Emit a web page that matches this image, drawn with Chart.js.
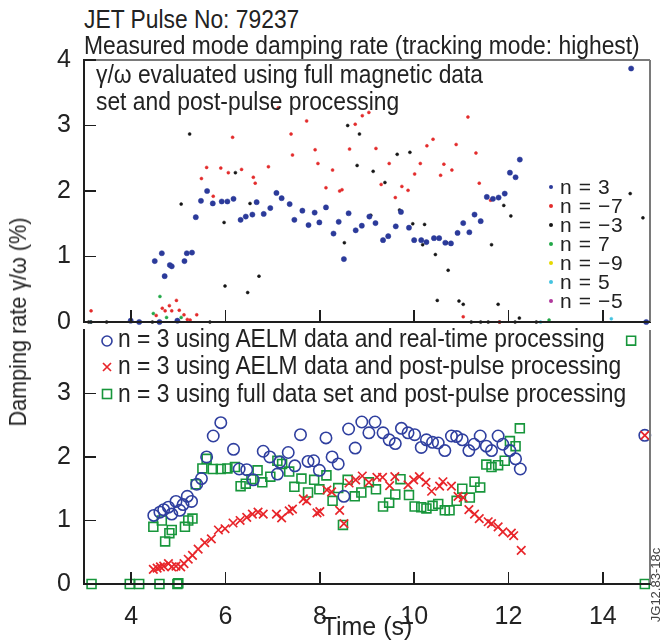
<!DOCTYPE html>
<html>
<head>
<meta charset="utf-8">
<script src="https://cdn.jsdelivr.net/npm/chart.js"></script>
<style>
  body { margin: 0; background: #fff; }
  #page { position: relative; width: 661px; height: 643px; overflow: hidden;
          font-family: "Liberation Sans", Arial, sans-serif; color: #222; }
  #page canvas { position: absolute; left: 0; }
  .txt { position: absolute; white-space: nowrap; font-size: 25px; line-height: 25px;
         transform-origin: 0 0; transform: scaleX(0.913); }
  .ytitle { position: absolute; left: 18px; top: 322px; white-space: nowrap; font-size: 24px;
            line-height: 24px; transform: translate(-50%, -50%) rotate(-90deg) scaleX(0.9); }
  .code { position: absolute; left: 655px; top: 585px; white-space: nowrap; font-size: 13px;
          color: #444; transform: translate(-50%, -50%) rotate(-90deg); }
  .leg-row { position: absolute; left: 560px; font-size: 21px; line-height: 19px;
             letter-spacing: 0.6px; white-space: nowrap; }
  .leg-dot { position: absolute; left: -11.5px; top: 7.5px; width: 4px; height: 4px; border-radius: 50%; }
  .mk { position: absolute; left: 100px; }
  .rule { position: absolute; }
</style>
</head>
<body>
<div id="page">
  <canvas id="top-chart" width="661" height="290" style="top:40px;width:661px;height:290px"></canvas>
  <canvas id="bottom-chart" width="661" height="321" style="top:322px;width:661px;height:321px"></canvas>

  <div class="txt" style="left:84px;top:7px">JET Pulse No: 79237</div>
  <div class="txt" style="left:84px;top:33px">Measured mode damping rate (tracking mode: highest)</div>
  <div class="txt" style="left:96px;top:62px">γ/ω evaluated using full magnetic data</div>
  <div class="txt" style="left:96px;top:89px">set and post-pulse processing</div>
  <div class="ytitle">Damping rate γ/ω (%)</div>
  <div class="code">JG12.83-18c</div>
  <div id="top-legend"></div>
  <div id="bottom-legend"></div>
</div>
<script>
// values: [time (s), damping rate (%)]
const xTicks = [4, 6, 8, 10, 12, 14];
const topYTicks = [0, 1, 2, 3, 4];
const bottomYTicks = [0, 1, 2, 3];

// top panel: gamma/omega from full magnetic data set, post-pulse
const topLabels = ['n = 3', 'n = \u22127', 'n = \u22123', 'n = 7', 'n = \u22129', 'n = 5', 'n = \u22125'];
const topColors = ['#2b3a9a', '#e32b2b', '#151515', '#22a848', '#e6d800', '#44c3e0', '#b0389c'];

const nPlus3 = [[3.99,0.02],[4.17,0],[4.50,0.93],[4.60,0],[4.65,1.05],[4.71,0.70],[4.82,0.87],[4.86,0.85],
  [4.98,0.02],[5.13,0.93],[5.18,1.05],[5.29,1.06],[5.37,1.60],[5.48,1.85],[5.61,2.00],[5.73,1.81],[5.92,1.84],
  [6.04,1.84],[6.17,1.88],[6.32,1.56],[6.43,1.61],[6.57,1.64],[6.66,1.83],[6.81,1.65],[6.95,1.74],[7.08,1.97],
  [7.19,1.89],[7.36,1.80],[7.46,1.56],[7.63,1.70],[7.76,1.48],[7.89,1.67],[7.99,1.52],[8.13,1.75],[8.29,1.35],
  [8.40,1.53],[8.51,0.96],[8.61,1.66],[8.76,1.40],[8.89,1.47],[9.05,1.61],[9.18,1.51],[9.34,1.25],[9.45,1.31],
  [9.61,1.46],[9.72,1.68],[9.89,1.44],[10.00,1.25],[10.15,1.25],[10.26,1.22],[10.42,1.28],[10.53,1.28],
  [10.66,1.21],[10.78,1.20],[10.92,1.36],[11.04,1.51],[11.17,1.37],[11.28,1.64],[11.41,1.54],[11.54,1.91],
  [11.67,1.88],[11.79,1.90],[11.92,1.96],[12.03,2.28],[12.15,2.21],[12.24,2.48],[14.60,3.87],[14.92,0]];
const nMinus7 = [[3.15,0.17],[4.53,0.10],[4.66,0.21],[4.72,0.17],[4.81,0.25],[4.86,0.17],[4.96,0.33],[5.02,0.18],
  [5.12,0.11],[5.19,0.04],[5.25,0.03],[5.39,0.11],[5.49,2.19],[5.60,2.36],[5.74,1.92],[5.90,2.35],[6.06,2.28],
  [6.15,2.82],[6.34,2.33],[6.59,2.21],[6.63,2.12],[6.91,2.37],[7.12,3.27],[7.39,2.87],[7.42,2.55],[7.72,3.07],
  [7.90,2.63],[7.96,2.42],[8.13,2.05],[8.27,2.32],[8.42,2.00],[8.47,2.02],[8.63,2.64],[8.75,3.02],[8.90,3.15],
  [9.04,3.20],[9.19,2.65],[9.30,2.10],[9.47,2.42],[9.60,1.90],[9.74,2.07],[9.87,2.01],[10.01,2.26],[10.13,2.42],
  [10.27,2.69],[10.40,2.79],[10.56,2.24],[10.63,2.41],[10.80,2.32],[10.89,2.71],[11.04,0.08],[11.14,3.13],
  [11.31,2.58],[11.38,2.12],[11.62,1.86],[11.81,0]];
const nMinus3 = [[3.10,0],[3.15,0],[3.48,0],[4.45,0],[4.60,0],[5.06,1.80],[5.24,2.87],[5.67,0],[5.97,1.52],
  [5.99,0.55],[6.21,2.28],[6.47,0.45],[6.52,1.81],[6.71,0.70],[8.52,1.21],[8.59,3.00],[8.79,2.39],[8.84,2.87],
  [9.08,1.63],[9.13,2.30],[9.38,2.13],[9.44,1.31],[9.64,2.56],[9.69,1.71],[9.91,2.59],[9.97,1.50],[10.18,1.18],
  [10.22,1.49],[10.45,1.03],[10.49,0.33],[10.69,1.21],[10.72,0.79],[10.95,0.32],[11.04,0.27],[11.21,0],
  [11.41,0],[11.57,0],[11.64,1.18],[11.78,0.27],[11.81,0],[11.90,1.78],[12.05,1.62],[12.14,0],[12.23,0.06],
  [12.59,0],[14.58,1.96],[14.85,1.59]];
const nPlus7 = [[4.47,0.13],[4.61,0.39],[4.75,0.07],[5.06,0.07],[12.86,0.03]];
const nMinus9 = [];
const nPlus5 = [[3.14,0],[12.68,0],[14.18,0.05]];
const nMinus5 = [];

// bottom panel: n = 3 from the three processing chains
const bottomLabels = ['n = 3 using AELM data and real-time processing',
  'n = 3 using AELM data and post-pulse processing',
  'n = 3 using full data set and post-pulse processing'];
const aelmRealTime = [[4.48,1.08],[4.61,1.13],[4.69,1.17],[4.79,1.21],[4.86,1.10],[4.95,1.30],[5.03,1.16],
  [5.10,1.25],[5.19,1.38],[5.28,1.30],[5.39,1.57],[5.49,1.66],[5.60,2.00],[5.74,2.33],[5.90,2.54],[6.17,2.12],
  [6.29,1.81],[6.45,1.80],[6.59,1.64],[6.80,2.09],[6.94,2.00],[7.10,1.73],[7.15,1.92],[7.33,2.07],[7.47,1.86],
  [7.59,2.35],[7.75,1.93],[7.87,1.94],[7.99,1.79],[8.13,2.30],[8.26,2.00],[8.39,1.89],[8.51,1.38],[8.61,2.44],
  [8.75,2.14],[8.89,2.55],[9.04,2.38],[9.17,2.55],[9.34,2.38],[9.47,2.27],[9.60,2.21],[9.73,2.45],[9.87,2.38],
  [10.01,2.35],[10.15,2.15],[10.26,2.27],[10.39,2.23],[10.51,2.22],[10.65,2.10],[10.79,2.33],[10.90,2.32],
  [11.02,2.27],[11.16,2.10],[11.27,2.20],[11.40,2.33],[11.53,2.17],[11.64,2.10],[11.78,2.33],[11.88,2.20],
  [12.03,2.10],[12.15,1.97],[12.25,1.81],[14.89,2.34]];
const aelmPostPulse = [[4.47,0.23],[4.55,0.25],[4.62,0.27],[4.69,0.28],[4.79,0.32],[4.86,0.27],[4.95,0.28],
  [5.05,0.27],[5.12,0.32],[5.21,0.39],[5.30,0.45],[5.42,0.55],[5.56,0.65],[5.70,0.71],[5.85,0.85],[5.99,0.87],
  [6.16,0.96],[6.31,1.00],[6.45,1.05],[6.57,1.10],[6.69,1.13],[6.80,1.10],[7.08,1.10],[7.19,1.04],[7.35,1.15],
  [7.42,1.18],[7.65,1.34],[7.72,1.31],[7.94,1.12],[8.00,1.14],[8.15,1.48],[8.25,1.45],[8.42,1.16],[8.51,0.95],
  [8.62,1.59],[8.76,1.64],[8.90,1.70],[9.04,1.60],[9.21,1.68],[9.33,1.68],[9.48,1.55],[9.59,1.69],[9.87,1.56],
  [9.99,1.64],[10.11,1.69],[10.25,1.60],[10.37,1.46],[10.54,1.54],[10.61,1.61],[10.79,1.54],[10.93,1.38],
  [11.04,1.36],[11.16,1.17],[11.28,1.10],[11.38,1.03],[11.57,0.98],[11.64,0.95],[11.78,0.90],[11.88,0.82],
  [12.06,0.80],[12.11,0.76],[12.27,0.53],[14.89,2.34]];
const fullPostPulse = [[3.16,0],[3.97,0],[4.17,0],[4.47,0.90],[4.60,0],[4.65,1.00],[4.72,0.67],[4.81,0.80],
  [4.86,0.85],[4.98,0],[5.00,0.01],[5.14,0.90],[5.21,1.00],[5.30,1.03],[5.37,1.57],[5.51,1.82],[5.60,1.97],
  [5.73,1.81],[5.90,1.81],[6.04,1.82],[6.20,1.84],[6.32,1.54],[6.43,1.58],[6.55,1.65],[6.68,1.79],[6.78,1.60],
  [6.95,1.69],[7.10,1.94],[7.20,1.89],[7.35,1.77],[7.46,1.53],[7.61,1.66],[7.75,1.44],[7.88,1.64],[7.99,1.49],
  [8.14,1.71],[8.27,1.31],[8.39,1.51],[8.49,0.93],[8.59,1.64],[8.74,1.38],[8.88,1.44],[9.04,1.60],[9.19,1.49],
  [9.34,1.22],[9.47,1.28],[9.60,1.41],[9.71,1.65],[9.89,1.40],[10.01,1.22],[10.15,1.21],[10.26,1.19],
  [10.39,1.23],[10.51,1.26],[10.65,1.16],[10.75,1.16],[10.90,1.31],[11.02,1.50],[11.18,1.36],[11.28,1.61],
  [11.40,1.52],[11.53,1.88],[11.64,1.84],[11.78,1.87],[11.92,1.94],[12.03,2.25],[12.15,2.17],[12.24,2.45],
  [14.60,3.83],[14.89,0]];

const axisColor = '#1e1e1e';
const frameColor = '#7a7a7a';
const circleBlue = '#2f3f9f';
const crossRed = '#e8252a';
const squareGreen = '#17963b';

Chart.defaults.font.family = '"Liberation Sans", Arial, sans-serif';
Chart.defaults.font.size = 25;
Chart.defaults.color = '#222';

const pts = arr => arr.map(([x, y]) => ({ x, y }));
const fixedTicks = values => axis => { axis.ticks = values.map(v => ({ value: v })); };

// keep label overflow from shrinking the plot area
function noOverflow(s) {
  s.paddingTop = 0; s.paddingBottom = 0; s.paddingLeft = 0; s.paddingRight = 0;
}

function xScale(showLabels) {
  return {
    type: 'linear', position: 'bottom', min: 3, max: 15,
    afterBuildTicks: fixedTicks(xTicks),
    grid: { display: false },
    border: { color: axisColor, width: 2 },
    ticks: { display: showLabels, padding: 10, color: '#222' },
    title: { display: showLabels, text: 'Time (s)', padding: 0, color: '#222' },
    afterFit: s => { noOverflow(s); s.height = showLabels ? 59 : 0; }
  };
}

function yScale(values) {
  return {
    type: 'linear', position: 'left', min: 0, max: 4,
    afterBuildTicks: fixedTicks(values),
    grid: { display: false },
    border: { color: axisColor, width: 2 },
    ticks: { padding: 5, color: '#222' },
    afterFit: s => { noOverflow(s); s.width = 84; }
  };
}

const topSeries = [nPlus3, nMinus7, nMinus3, nPlus7, nMinus9, nPlus5, nMinus5];

const topChart = new Chart(document.getElementById('top-chart'), {
  type: 'scatter',
  data: {
    datasets: topSeries.map((s, i) => ({
      label: topLabels[i],
      data: pts(s),
      backgroundColor: topColors[i],
      borderColor: topColors[i],
      borderWidth: 0.5,
      pointRadius: i === 0 ? 2.6 : 1.5,
      clip: false
    }))
  },
  options: {
    responsive: false,
    animation: false,
    layout: { padding: { top: 20, right: 11, bottom: 8, left: 0 } },
    plugins: { legend: { display: false }, tooltip: { enabled: false } },
    scales: { x: xScale(false), y: yScale(topYTicks) }
  }
});

const bottomChart = new Chart(document.getElementById('bottom-chart'), {
  type: 'scatter',
  data: {
    datasets: [
      { label: bottomLabels[1], data: pts(aelmPostPulse), pointStyle: 'crossRot', pointRadius: 6,
        borderColor: crossRed, backgroundColor: crossRed, borderWidth: 1.7, clip: false },
      { label: bottomLabels[0], data: pts(aelmRealTime), pointStyle: 'circle', pointRadius: 5.7,
        borderColor: circleBlue, backgroundColor: 'rgba(0,0,0,0)', borderWidth: 1.6, clip: false },
      { label: bottomLabels[2], data: pts(fullPostPulse), pointStyle: 'rect', pointRadius: 6.3,
        borderColor: squareGreen, backgroundColor: 'rgba(0,0,0,0)', borderWidth: 1.6, clip: false }
    ]
  },
  options: {
    responsive: false,
    animation: false,
    layout: { padding: { top: 0, right: 11, bottom: 0, left: 0 } },
    plugins: { legend: { display: false }, tooltip: { enabled: false } },
    scales: { x: xScale(true), y: yScale(bottomYTicks) }
  }
});

// axis lines, inward tick marks and grey frame, placed from each chart's own scales
function addRules(chart, canvasTop, withTop) {
  const page = document.getElementById('page');
  const a = chart.chartArea;
  const add = (l, t, w, h, color) => {
    const d = document.createElement('div');
    d.className = 'rule';
    d.style.cssText += `left:${l}px;top:${t}px;width:${w}px;height:${h}px;background:${color}`;
    page.appendChild(d);
  };
  const top = canvasTop + a.top, bottom = canvasTop + a.bottom;
  if (withTop) add(a.left, top - 0.75, a.right - a.left, 1.5, frameColor);
  add(a.right - 0.75, top, 1.5, a.bottom - a.top, frameColor);
  add(a.left - 1, top, 2, a.bottom - a.top + 1, axisColor);
  add(a.left - 1, bottom - 1, a.right - a.left + 1, 2, axisColor);
  chart.scales.x.ticks.forEach(t => {
    const px = chart.scales.x.getPixelForValue(t.value);
    add(px - 0.75, bottom - 12, 1.5, 12, axisColor);
  });
  chart.scales.y.ticks.forEach(t => {
    const py = canvasTop + chart.scales.y.getPixelForValue(t.value);
    add(a.left, py - 0.75, 12, 1.5, axisColor);
  });
}
addRules(topChart, 40, true);
addRules(bottomChart, 322, false);

// legends as text overlays
const topLegend = document.getElementById('top-legend');
topLabels.forEach((label, i) => {
  const row = document.createElement('div');
  row.className = 'leg-row';
  row.style.top = (177.4 + i * 19) + 'px';
  row.innerHTML = `<span class="leg-dot" style="background:${topColors[i]}"></span>${label}`;
  topLegend.appendChild(row);
});

const markers = [
  `<svg width="14" height="14"><circle cx="7" cy="7" r="5" fill="none" stroke="${circleBlue}" stroke-width="1.6"/></svg>`,
  `<svg width="14" height="14"><path d="M3 3L11 11M11 3L3 11" stroke="${crossRed}" stroke-width="1.7"/></svg>`,
  `<svg width="14" height="14"><rect x="2.5" y="2.5" width="9" height="9" fill="none" stroke="${squareGreen}" stroke-width="1.6"/></svg>`
];
const markerY = [334, 360, 387];
const bottomLegend = document.getElementById('bottom-legend');
bottomLabels.forEach((label, i) => {
  const mk = document.createElement('div');
  mk.className = 'mk';
  mk.style.top = markerY[i] + 'px';
  mk.innerHTML = markers[i];
  bottomLegend.appendChild(mk);
  const t = document.createElement('div');
  t.className = 'txt';
  t.style.left = '118px';
  t.style.top = (325.5 + i * 27.5) + 'px';
  t.textContent = label;
  bottomLegend.appendChild(t);
});
</script>
</body>
</html>
